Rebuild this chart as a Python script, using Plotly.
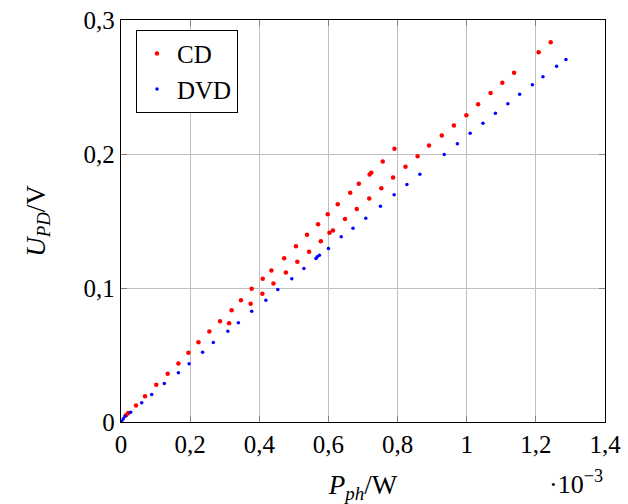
import plotly.graph_objects as go

# Photodiode voltage vs. optical power (x in units of 1e-3 W)
cd_power = [0.0145, 0.021, 0.0434, 0.0695, 0.102, 0.135, 0.166, 0.195, 0.224, 0.2556,
            0.2865, 0.3126, 0.320, 0.347, 0.375, 0.378, 0.409, 0.410, 0.435, 0.441,
            0.472, 0.477, 0.506, 0.510, 0.538, 0.544, 0.570, 0.578, 0.598, 0.603,
            0.613, 0.627, 0.648, 0.663, 0.682, 0.688, 0.718, 0.719, 0.724, 0.753,
            0.757, 0.787, 0.791, 0.823, 0.858, 0.891, 0.928, 0.963, 0.999, 1.033,
            1.069, 1.103, 1.137, 1.208, 1.243]
cd_voltage = [0.0051, 0.0067, 0.0123, 0.0193, 0.0278, 0.036, 0.0437, 0.0516, 0.0596, 0.0675,
              0.0752, 0.0737, 0.0834, 0.0909, 0.0882, 0.0994, 0.0957, 0.1069, 0.1131, 0.1034,
              0.1222, 0.1116, 0.1312, 0.1196, 0.1397, 0.1270, 0.1476, 0.1349, 0.1551, 0.1412,
              0.1429, 0.1625, 0.1515, 0.171, 0.159, 0.1778, 0.1668, 0.1847, 0.186, 0.1745,
              0.1944, 0.1825, 0.2039, 0.1904, 0.1984, 0.2063, 0.2138, 0.2213, 0.229, 0.2372,
              0.2455, 0.2531, 0.2606, 0.276, 0.2834]

dvd_power = [0.002, 0.0067, 0.0116, 0.028, 0.060, 0.0889, 0.1253, 0.166, 0.197, 0.236,
             0.267, 0.309, 0.3395, 0.378, 0.419, 0.4535, 0.494, 0.529, 0.564, 0.568,
             0.574, 0.600, 0.637, 0.671, 0.708, 0.7505, 0.790, 0.827, 0.8645, 0.935,
             0.973, 1.010, 1.047, 1.083, 1.119, 1.153, 1.190, 1.2205, 1.260, 1.287]
dvd_voltage = [0.0006, 0.0024, 0.0043, 0.0073, 0.0143, 0.0205, 0.0287, 0.0367, 0.0434, 0.0521,
               0.0593, 0.0678, 0.074, 0.0827, 0.0909, 0.0989, 0.1069, 0.1146, 0.122, 0.1233,
               0.1245, 0.1295, 0.1382, 0.1446, 0.1521, 0.161, 0.1696, 0.1772, 0.1849, 0.1996,
               0.2076, 0.2155, 0.223, 0.2304, 0.2375, 0.2446, 0.2517, 0.2576, 0.2654, 0.2705]

x_ticks = [0, 0.2, 0.4, 0.6, 0.8, 1.0, 1.2, 1.4]
x_tick_text = ["0", "0,2", "0,4", "0,6", "0,8", "1", "1,2", "1,4"]
y_ticks = [0, 0.1, 0.2, 0.3]
y_tick_text = ["0", "0,1", "0,2", "0,3"]

FONT = "Liberation Serif"

fig = go.Figure()
fig.add_trace(go.Scatter(x=cd_power, y=cd_voltage, mode="markers", name="CD",
                         marker=dict(color="#ff0000", size=4.5, line=dict(width=0))))
fig.add_trace(go.Scatter(x=dvd_power, y=dvd_voltage, mode="markers", name="DVD",
                         marker=dict(color="#0000ff", size=3.5, line=dict(width=0))))

axis_common = dict(showgrid=True, gridcolor="#bfbfbf", gridwidth=1,
                   showline=True, linecolor="black", linewidth=1.3, mirror="ticks",
                   ticks="inside", ticklen=6, tickcolor="#808080", zeroline=False,
                   automargin=False,
                   tickfont=dict(family=FONT, size=25, color="black"))

fig.update_xaxes(range=[0, 1.4], tickvals=x_ticks, ticktext=x_tick_text,
                 title=dict(text="<i>P</i><sub><i>ph</i></sub>/W",
                            font=dict(family=FONT, size=27, color="black"), standoff=21),
                 **axis_common)
fig.update_yaxes(range=[0, 0.3], tickvals=y_ticks, ticktext=y_tick_text,
                 title=dict(text="<i>U</i><sub><i>PD</i></sub>/V",
                            font=dict(family=FONT, size=27, color="black"), standoff=30),
                 **axis_common)

fig.add_annotation(text="·10<sup>−3</sup>", xref="paper", yref="paper",
                   x=1.0, y=-0.15, xanchor="right", yanchor="middle", showarrow=False,
                   font=dict(family=FONT, size=26, color="black"))

fig.update_layout(
    width=628, height=504,
    margin=dict(l=121, r=23, t=20, b=82),
    plot_bgcolor="white", paper_bgcolor="white",
    legend=dict(x=0.031, y=0.976, xanchor="left", yanchor="top",
                bgcolor="white", bordercolor="black", borderwidth=1,
                font=dict(family=FONT, size=25, color="black"),
                itemsizing="trace", itemwidth=30, tracegroupgap=0),
)

fig.write_html("out.html")
